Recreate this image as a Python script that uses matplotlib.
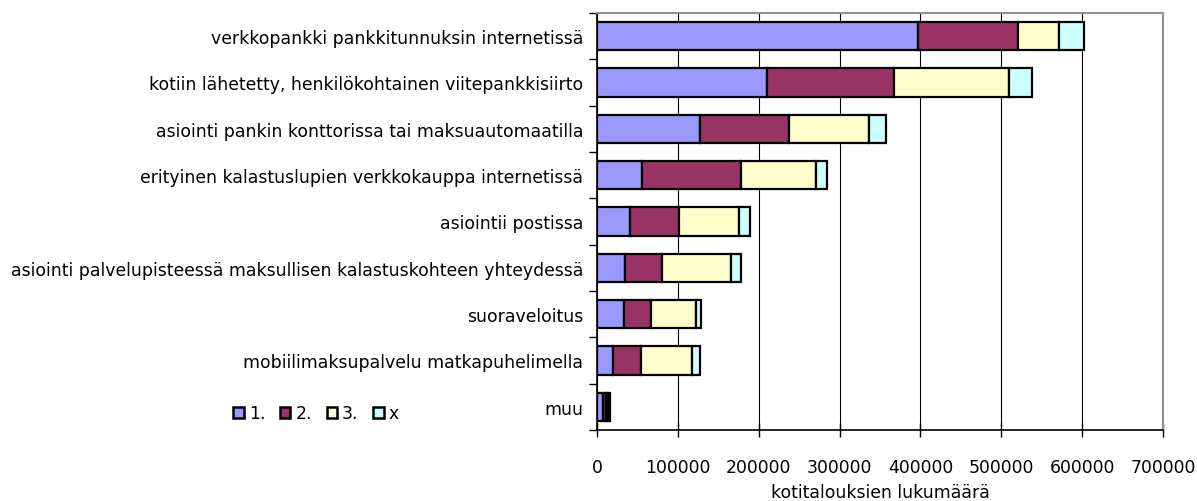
import matplotlib
matplotlib.use("Agg")
import matplotlib.pyplot as plt
import numpy as np

categories = [
    "verkkopankki pankkitunnuksin internetissä",
    "kotiin lähetetty, henkilökohtainen viitepankkisiirto",
    "asiointi pankin konttorissa tai maksuautomaatilla",
    "erityinen kalastuslupien verkkokauppa internetissä",
    "asiointii postissa",
    "asiointi palvelupisteessä maksullisen kalastuskohteen yhteydessä",
    "suoraveloitus",
    "mobiilimaksupalvelu matkapuhelimella",
    "muu",
]
s1 = [397000, 210000, 127000, 56000, 41000, 35000, 33000, 20000, 8000]
s2 = [124000, 157000, 111000, 122000, 61000, 45000, 34000, 34000, 3000]
s3 = [50000, 142000, 99000, 93000, 74000, 86000, 55000, 64000, 3000]
sx = [31000, 29000, 20000, 14000, 13000, 12000, 7000, 9000, 2000]
series_names = ["1.", "2.", "3.", "x"]
colors = ["#9999FF", "#993366", "#FFFFCC", "#CCFFFF"]
xticks = [0, 100000, 200000, 300000, 400000, 500000, 600000, 700000]
xlabel = "kotitalouksien lukumäärä"

FS = 12.4
plt.rcParams['font.family'] = ['DejaVu Sans']
fig = plt.figure(figsize=(11.97, 5.02), dpi=100)
ax = fig.add_axes([597/1197, 1 - 431/502, (1163-597)/1197, (431-14)/502])

y = np.arange(len(categories))
left = np.zeros(len(categories))
for vals, c, n in zip([s1, s2, s3, sx], colors, series_names):
    ax.barh(y, vals, left=left, height=0.61, color=c, edgecolor="black",
            linewidth=1.6, label=n, zorder=3)
    left += np.array(vals)

ax.set_ylim(len(categories) - 0.5, -0.5)
ax.set_xlim(0, 700000)
ax.set_xticks(xticks)
ax.set_xticklabels([str(t) for t in xticks], fontsize=FS)
ax.set_yticks(y)
ax.set_yticklabels(categories, fontsize=FS)
ax.tick_params(axis='y', length=0, pad=10)
ax.set_yticks(np.arange(-0.5, len(categories), 1), minor=True)
ax.tick_params(axis='y', which='minor', length=6, direction='out', width=1)
ax.tick_params(axis='x', length=10, direction='inout', width=1, pad=15)
ax.grid(axis='x', color='black', linewidth=0.8, zorder=0)
for s in ['top', 'right']:
    ax.spines[s].set_color('#909090')
    ax.spines[s].set_linewidth(1.5)
ax.spines['left'].set_linewidth(1.2)
ax.spines['bottom'].set_linewidth(1.2)
ax.set_xlabel(xlabel, fontsize=FS, labelpad=5)

leg = ax.legend(loc='center left', bbox_to_anchor=(-0.67, 0.040), ncol=4,
                frameon=False, fontsize=FS, handlelength=0.6, handleheight=0.6,
                columnspacing=0.85, handletextpad=0.3)
for h in leg.legend_handles:
    h.set_linewidth(1.8)

fig.savefig("out.png", dpi=100)
